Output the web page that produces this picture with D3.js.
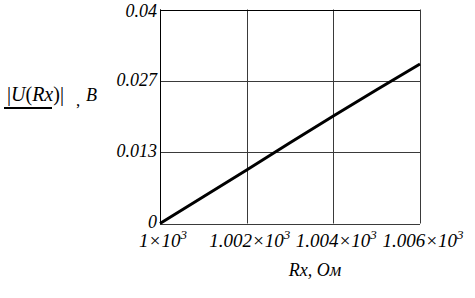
<!DOCTYPE html>
<html><head><meta charset="utf-8">
<script src="https://cdn.jsdelivr.net/npm/d3@7"></script>
</head><body style="margin:0">
<script>
const rx = [1000, 1001, 1002, 1003, 1004, 1005, 1006];
const u = [0, 0.0050, 0.0100, 0.0151, 0.0201, 0.0250, 0.0298];
const xTicks = [1000, 1002, 1004, 1006];
const xTickLabels = ["1", "1.002", "1.004", "1.006"];
const yTicks = [0, 0.04/3, 0.08/3, 0.04];
const yTickLabels = ["0", "0.013", "0.027", "0.04"];
const fonts = ["Times New Roman"];

const W = 475, H = 298;
const svg = d3.select("body").append("svg").attr("width", W).attr("height", H);
const T = sel => sel.attr("font-family", () => fonts[0]).attr("font-style", "italic");
const x = d3.scaleLinear().domain([1000, 1006]).range([160, 420]);
const y = d3.scaleLinear().domain([0, 0.04]).range([223.5, 9.5]);

// grid
svg.append("g").selectAll("line").data(xTicks).join("line")
  .attr("x1", d => Math.round(x(d)) + 0.5).attr("x2", d => Math.round(x(d)) + 0.5)
  .attr("y1", y(0.04)).attr("y2", y(0)).attr("stroke", "#3a3a3a").attr("stroke-width", 1);
svg.append("g").selectAll("line").data(yTicks).join("line")
  .attr("y1", d => Math.round(y(d)) + 0.5).attr("y2", d => Math.round(y(d)) + 0.5)
  .attr("x1", x(1000)).attr("x2", x(1006)).attr("stroke", "#3a3a3a").attr("stroke-width", 1);
svg.append("line").attr("x1", x(1000)).attr("x2", x(1006)).attr("y1", Math.round(y(0.04)) + 0.5).attr("y2", Math.round(y(0.04)) + 0.5).attr("stroke", "#000");
svg.append("line").attr("x1", Math.round(x(1000)) + 0.5).attr("x2", Math.round(x(1000)) + 0.5).attr("y1", y(0.04)).attr("y2", y(0)).attr("stroke", "#000");

// line
svg.append("path").datum(rx.map((r, i) => [r, u[i]]))
  .attr("d", d3.line().x(d => x(d[0])).y(d => y(d[1])))
  .attr("fill", "none").attr("stroke", "#000").attr("stroke-width", 3);

// y tick labels
svg.selectAll("text.yt").data(yTicks).join("text").attr("class", "yt").call(T)
  .attr("x", 157).attr("y", (d, i) => y(d) + (i === 3 ? 7 : i === 0 ? 4 : 5)).attr("text-anchor", "end")
  .attr("font-size", 18).text((d, i) => yTickLabels[i]);

// x tick labels
const xt = svg.selectAll("text.xt").data(xTicks).join("text").attr("class", "xt").call(T)
  .attr("x", d => x(d) + 3).attr("y", 247).attr("text-anchor", "middle").attr("font-size", 19);
xt.append("tspan").text((d, i) => xTickLabels[i] + "\u00d710");
xt.append("tspan").attr("dy", -8).attr("font-size", 13).text("3");

// x axis title
svg.append("text").call(T).attr("x", 315).attr("y", 276).attr("text-anchor", "middle").attr("font-size", 18).text("Rx, Ом");

// y axis title
const yl = svg.append("text").call(T).attr("x", 7).attr("y", 101).attr("font-size", 20);
yl.append("tspan").attr("font-style", "normal").text("|");
yl.append("tspan").text("U");
yl.append("tspan").attr("font-style", "normal").text("(");
yl.append("tspan").text("Rx");
yl.append("tspan").attr("font-style", "normal").text(")|");
svg.append("text").call(T).attr("x", 76).attr("y", 106).attr("font-size", 17).attr("font-style", "normal").text(",");
svg.append("text").call(T).attr("x", 86).attr("y", 101).attr("font-size", 18).text("B");
svg.append("line").attr("x1", 4).attr("x2", 52).attr("y1", 108).attr("y2", 108).attr("stroke", "#000").attr("stroke-width", 2);
</script>
</body></html>
